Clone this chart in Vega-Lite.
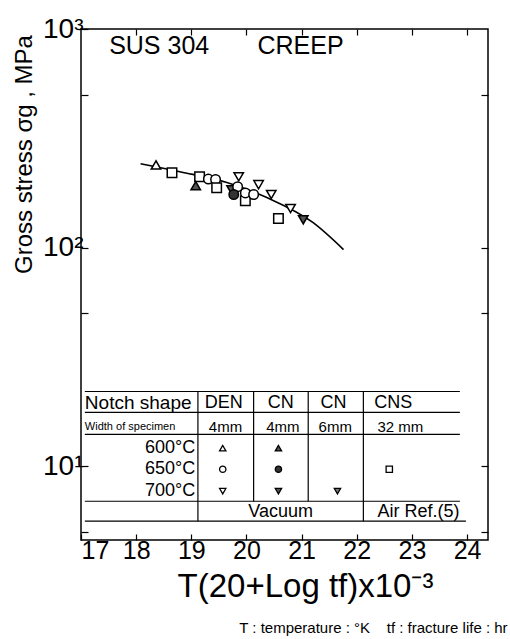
{
  "$schema": "https://vega.github.io/schema/vega-lite/v6.json",
  "width": 407,
  "height": 511,
  "autosize": "none",
  "padding": {"left": 81, "top": 29, "right": 22, "bottom": 99},
  "background": "white",
  "config": {
    "font": "Liberation Sans",
    "view": {"stroke": "black", "strokeWidth": 1.5},
    "axis": {"grid": false, "domain": false, "tickColor": "black", "tickWidth": 1.2, "labelColor": "black", "titleColor": "black", "labelFont": "Liberation Sans", "titleFont": "Liberation Sans", "titleFontWeight": "normal"},
    "text": {"font": "Liberation Sans", "color": "black"}
  },
  "title": {"text": "T : temperature : °K\u00a0\u00a0\u00a0\u00a0tf : fracture life : hr", "orient": "bottom", "anchor": "end", "fontSize": 15, "fontWeight": "normal", "font": "Liberation Sans", "color": "black", "offset": 18, "dx": 19},
  "resolve": {"axis": {"x": "independent", "y": "independent"}},
  "layer": [
    {
      "data": {"values": [{"x": 17, "y": 1000}]},
      "mark": {"type": "point", "opacity": 0},
      "encoding": {
        "x": {"field": "x", "type": "quantitative", "scale": {"domain": [17, 24.38], "nice": false, "zero": false},
              "axis": {"orient": "top", "values": [18, 19, 20, 21, 22, 23, 24], "labels": false, "tickSize": -6, "title": null}},
        "y": {"field": "y", "type": "quantitative", "scale": {"type": "log", "domain": [4.6, 1000], "nice": false},
              "axis": {"orient": "right", "values": [5, 10, 50, 100, 500], "labels": false, "tickSize": -7, "title": null}}
      }
    },
    {
      "data": {"values": [
        {"x": 18.08, "y": 242}, {"x": 18.81, "y": 222}, {"x": 19.66, "y": 198},
        {"x": 20.38, "y": 169}, {"x": 21.21, "y": 130}, {"x": 21.76, "y": 98}
      ]},
      "mark": {"type": "line", "color": "black", "strokeWidth": 1.6, "interpolate": "monotone"},
      "encoding": {
        "x": {"field": "x", "type": "quantitative",
              "axis": {"orient": "bottom", "values": [17, 18, 19, 20, 21, 22, 23, 24], "tickSize": -6, "labelFontSize": 25, "labelPadding": 4,
                       "title": "T(20+Log tf)x10⁻³", "titleFontSize": 33, "titleX": 224, "titleY": 56, "titleBaseline": "alphabetic"}},
        "y": {"field": "y", "type": "quantitative",
              "axis": {"orient": "left", "values": [5, 10, 50, 100, 500, 1000], "tickSize": -7, "labelFontSize": 28, "labelPadding": 5,
                       "labelExpr": "datum.value == 1000 ? '10³' : datum.value == 100 ? '10²' : datum.value == 10 ? '10¹' : ''",
                       "title": "Gross stress σg , MPa", "titleFontSize": 24, "titleX": -57, "titleY": 125, "titleBaseline": "middle"}}
      }
    },
    {
      "data": {"values": [
        {"x": 18.36, "y": 239, "s": "DEN 600"},
        {"x": 18.65, "y": 220, "s": "CNS 650"},
        {"x": 19.15, "y": 211, "s": "CNS 650"},
        {"x": 19.08, "y": 192, "s": "CN4 600"},
        {"x": 19.31, "y": 206, "s": "DEN 650"},
        {"x": 19.44, "y": 205, "s": "DEN 650"},
        {"x": 19.46, "y": 188, "s": "CNS 650"},
        {"x": 19.86, "y": 211, "s": "DEN 700"},
        {"x": 19.73, "y": 184, "s": "CN4 700"},
        {"x": 19.84, "y": 190, "s": "DEN 650"},
        {"x": 19.77, "y": 175, "s": "CN4 650"},
        {"x": 19.98, "y": 164, "s": "CNS 650"},
        {"x": 19.98, "y": 178, "s": "DEN 650"},
        {"x": 20.13, "y": 175, "s": "DEN 650"},
        {"x": 20.22, "y": 194, "s": "DEN 700"},
        {"x": 20.45, "y": 175, "s": "DEN 700"},
        {"x": 20.58, "y": 136, "s": "CNS 650"},
        {"x": 20.80, "y": 151, "s": "DEN 700"},
        {"x": 21.03, "y": 134, "s": "CN4 700"}
      ]},
      "mark": {"type": "point", "filled": true, "stroke": "black", "strokeWidth": 1.5, "size": 90, "opacity": 1},
      "encoding": {
        "x": {"field": "x", "type": "quantitative", "axis": null},
        "y": {"field": "y", "type": "quantitative", "axis": null},
        "shape": {"field": "s", "type": "nominal", "legend": null,
                  "scale": {"domain": ["DEN 600", "DEN 650", "DEN 700", "CN4 600", "CN4 650", "CN4 700", "CN6 700", "CNS 650"],
                            "range": ["triangle-up", "circle", "triangle-down", "triangle-up", "circle", "triangle-down", "triangle-down", "square"]}},
        "fill": {"field": "s", "type": "nominal", "legend": null,
                 "scale": {"domain": ["DEN 600", "DEN 650", "DEN 700", "CN4 600", "CN4 650", "CN4 700", "CN6 700", "CNS 650"],
                           "range": ["white", "white", "white", "#555555", "#333333", "#555555", "#777777", "white"]}}
      }
    },
    {
      "data": {"values": [
        {"x": 19.57, "y": 12.1, "s": "DEN 600"}, {"x": 20.58, "y": 12.1, "s": "CN4 600"},
        {"x": 19.57, "y": 9.69, "s": "DEN 650"}, {"x": 20.58, "y": 9.69, "s": "CN4 650"}, {"x": 22.59, "y": 9.69, "s": "CNS 650"},
        {"x": 19.57, "y": 7.69, "s": "DEN 700"}, {"x": 20.58, "y": 7.69, "s": "CN4 700"}, {"x": 21.65, "y": 7.69, "s": "CN6 700"}
      ]},
      "mark": {"type": "point", "filled": true, "stroke": "black", "strokeWidth": 1.3, "size": 40, "opacity": 1},
      "encoding": {
        "x": {"field": "x", "type": "quantitative", "axis": null},
        "y": {"field": "y", "type": "quantitative", "axis": null},
        "shape": {"field": "s", "type": "nominal", "legend": null},
        "fill": {"field": "s", "type": "nominal", "legend": null}
      }
    },
    {
      "data": {"values": [
        {"x1": 17.07, "x2": 23.87, "y1": 21.98, "y2": 21.98},
        {"x1": 17.07, "x2": 23.87, "y1": 17.65, "y2": 17.65},
        {"x1": 17.07, "x2": 23.87, "y1": 14.0, "y2": 14.0},
        {"x1": 17.07, "x2": 23.87, "y1": 6.92, "y2": 6.92},
        {"x1": 17.07, "x2": 23.98, "y1": 5.61, "y2": 5.61},
        {"x1": 19.12, "x2": 19.12, "y1": 21.98, "y2": 5.61},
        {"x1": 20.13, "x2": 20.13, "y1": 21.98, "y2": 6.92},
        {"x1": 21.12, "x2": 21.12, "y1": 21.98, "y2": 6.92},
        {"x1": 22.12, "x2": 22.12, "y1": 21.98, "y2": 5.61}
      ]},
      "mark": {"type": "rule", "color": "black", "strokeWidth": 1.2},
      "encoding": {
        "x": {"field": "x1", "type": "quantitative", "axis": null},
        "x2": {"field": "x2"},
        "y": {"field": "y1", "type": "quantitative", "axis": null},
        "y2": {"field": "y2"}
      }
    },
    {
      "data": {"values": [
        {"x": 19.59, "y": 19.4, "t": "DEN"}, {"x": 20.62, "y": 19.4, "t": "CN"}, {"x": 21.58, "y": 19.4, "t": "CN"}, {"x": 22.66, "y": 19.4, "t": "CNS"},
        {"x": 20.62, "y": 6.17, "t": "Vacuum"}, {"x": 23.12, "y": 6.17, "t": "Air Ref.(5)"}
      ]},
      "mark": {"type": "text", "fontSize": 18, "align": "center", "baseline": "middle"},
      "encoding": {
        "x": {"field": "x", "type": "quantitative", "axis": null},
        "y": {"field": "y", "type": "quantitative", "axis": null},
        "text": {"field": "t"}
      }
    },
    {
      "data": {"values": [
        {"x": 19.62, "y": 15.2, "t": "4mm"}, {"x": 20.66, "y": 15.2, "t": "4mm"}, {"x": 21.61, "y": 15.2, "t": "6mm"}, {"x": 22.79, "y": 15.2, "t": "32 mm"}
      ]},
      "mark": {"type": "text", "fontSize": 15, "align": "center", "baseline": "middle"},
      "encoding": {
        "x": {"field": "x", "type": "quantitative", "axis": null},
        "y": {"field": "y", "type": "quantitative", "axis": null},
        "text": {"field": "t"}
      }
    },
    {
      "data": {"values": [{"x": 17.07, "y": 19.4, "t": "Notch shape"}]},
      "mark": {"type": "text", "fontSize": 19, "align": "left", "baseline": "middle"},
      "encoding": {
        "x": {"field": "x", "type": "quantitative", "axis": null},
        "y": {"field": "y", "type": "quantitative", "axis": null},
        "text": {"field": "t"}
      }
    },
    {
      "data": {"values": [{"x": 17.07, "y": 15.2, "t": "Width of specimen"}]},
      "mark": {"type": "text", "fontSize": 11, "align": "left", "baseline": "middle"},
      "encoding": {
        "x": {"field": "x", "type": "quantitative", "axis": null},
        "y": {"field": "y", "type": "quantitative", "axis": null},
        "text": {"field": "t"}
      }
    },
    {
      "data": {"values": [
        {"x": 19.07, "y": 12.1, "t": "600°C"}, {"x": 19.07, "y": 9.69, "t": "650°C"}, {"x": 19.07, "y": 7.69, "t": "700°C"}
      ]},
      "mark": {"type": "text", "fontSize": 18, "align": "right", "baseline": "middle"},
      "encoding": {
        "x": {"field": "x", "type": "quantitative", "axis": null},
        "y": {"field": "y", "type": "quantitative", "axis": null},
        "text": {"field": "t"}
      }
    },
    {
      "data": {"values": [{"x": 17.51, "y": 836, "t": "SUS 304"}, {"x": 20.2, "y": 836, "t": "CREEP"}]},
      "mark": {"type": "text", "fontSize": 25, "align": "left", "baseline": "middle"},
      "encoding": {
        "x": {"field": "x", "type": "quantitative", "axis": null},
        "y": {"field": "y", "type": "quantitative", "axis": null},
        "text": {"field": "t"}
      }
    }
  ]
}
